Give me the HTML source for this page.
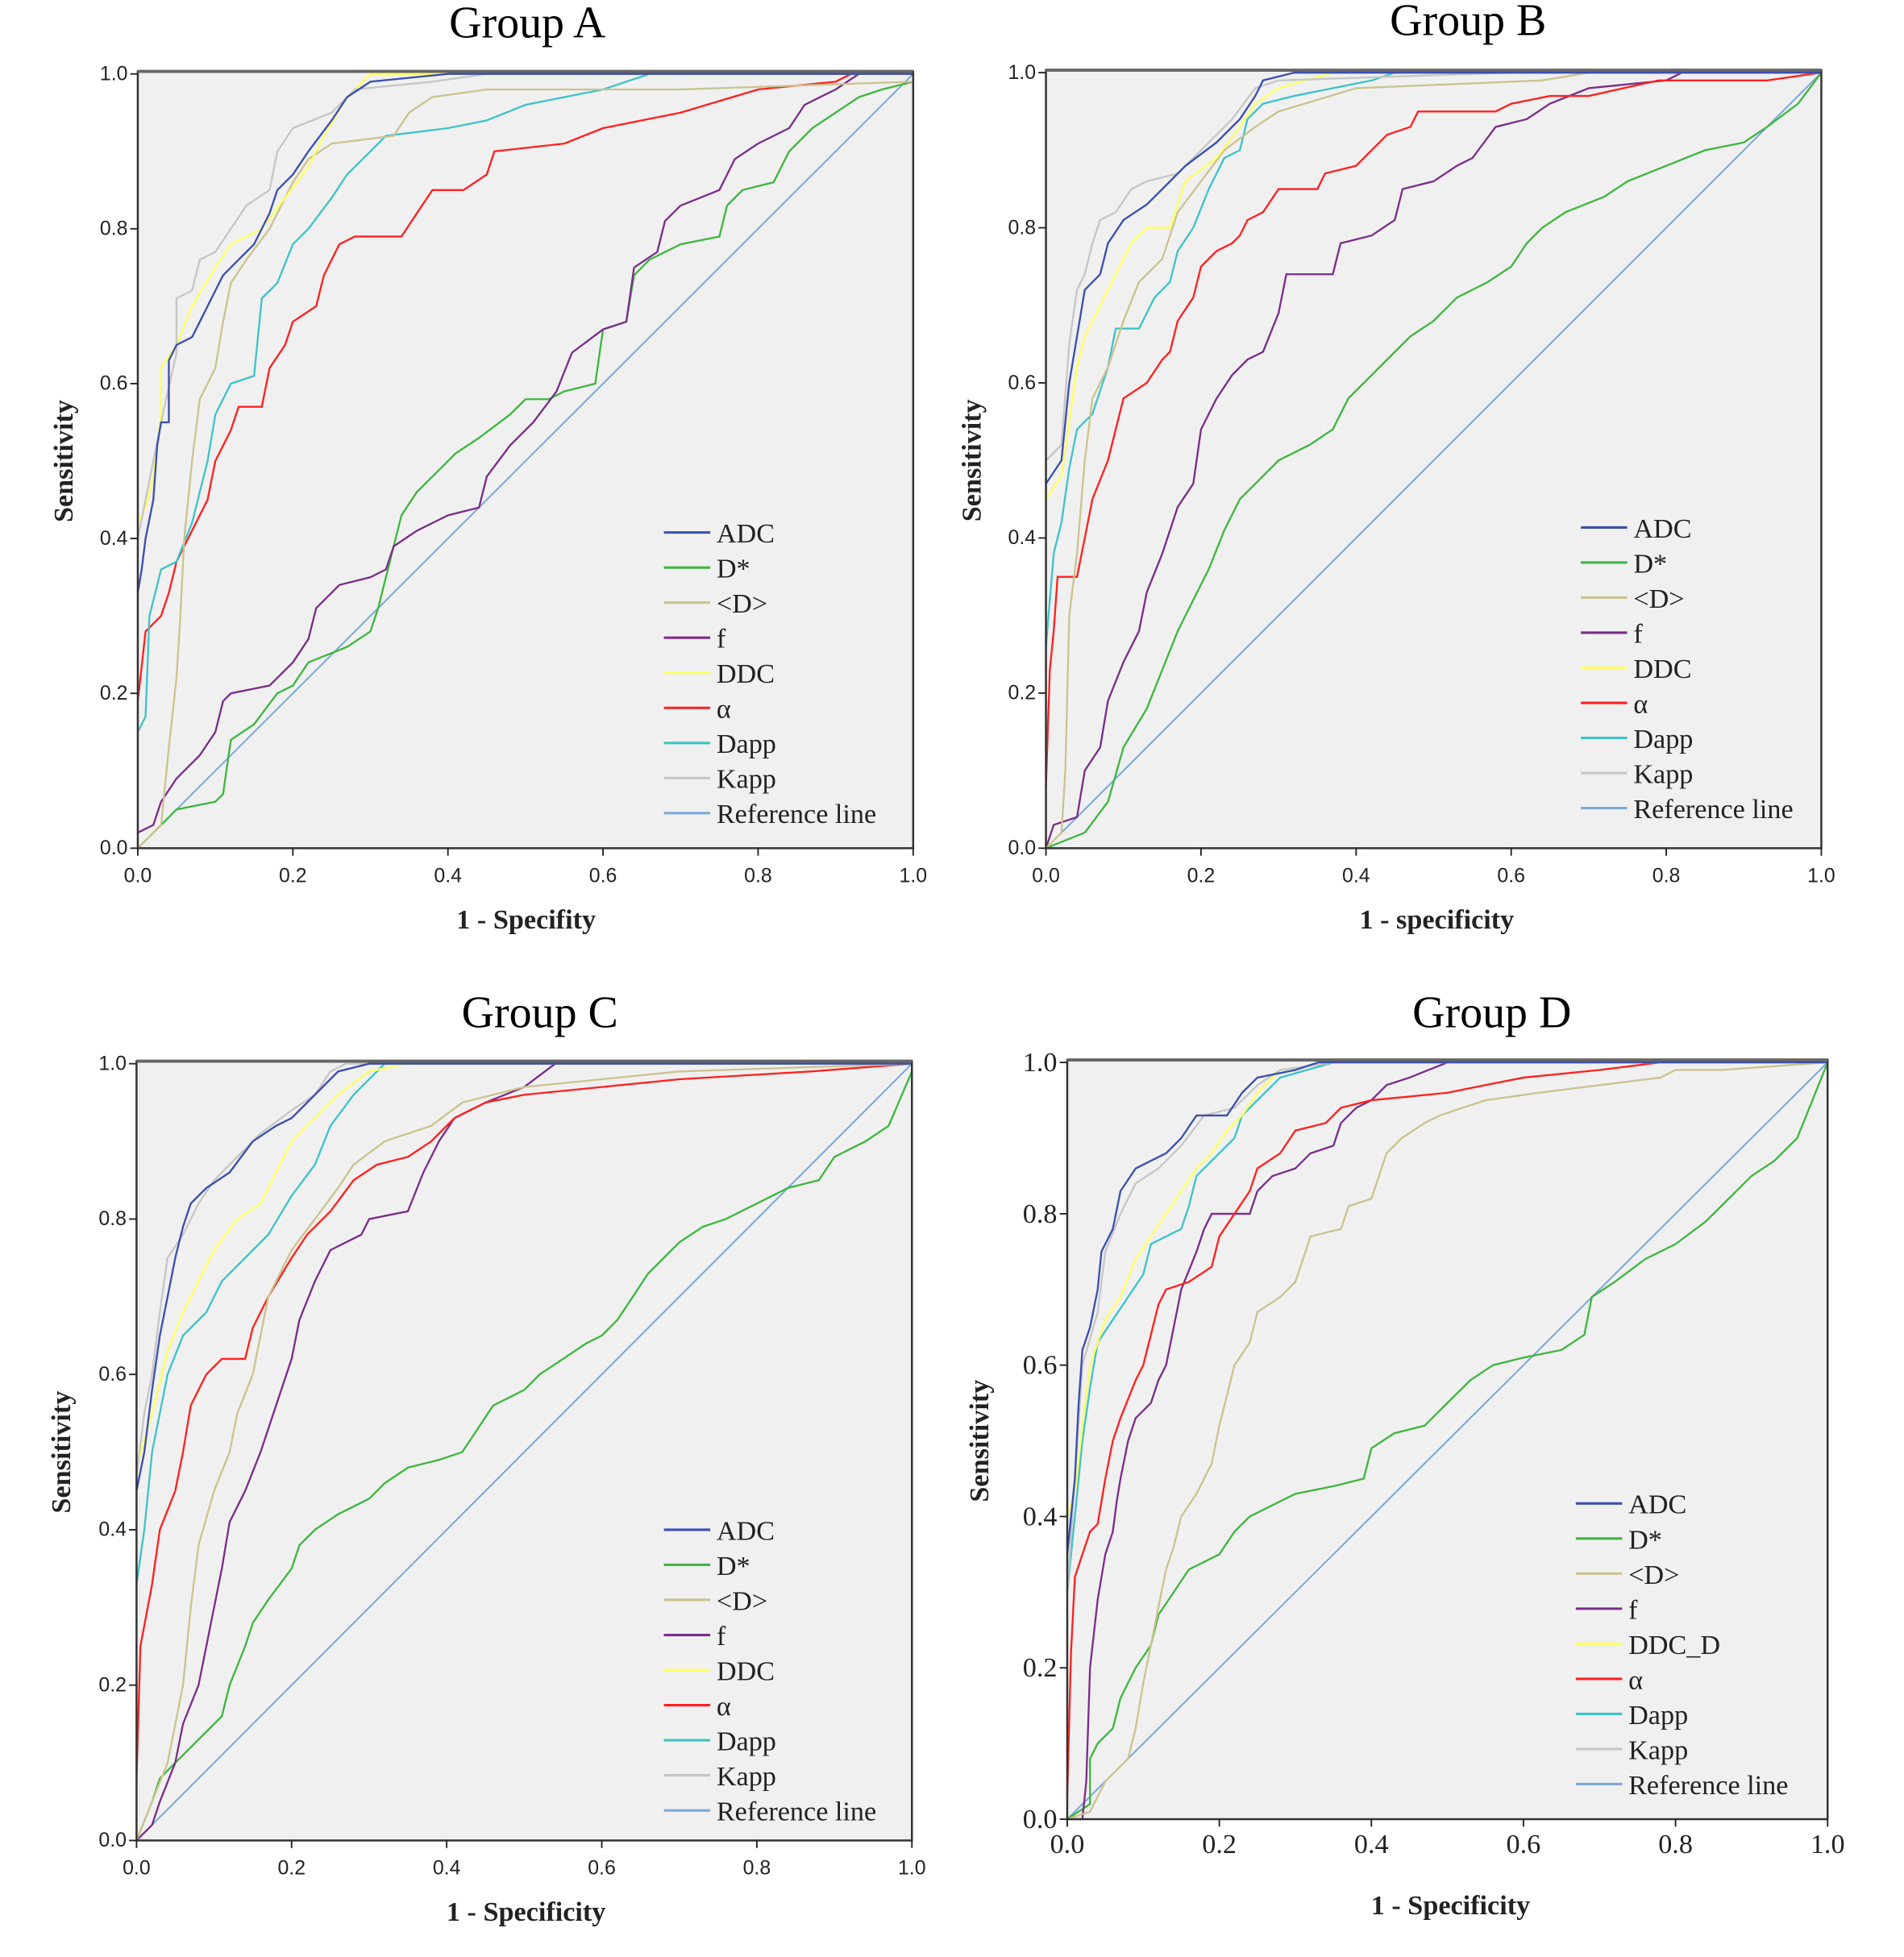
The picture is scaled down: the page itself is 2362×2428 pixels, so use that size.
<!DOCTYPE html>
<html><head><meta charset="utf-8"><style>
html,body{margin:0;padding:0;background:#fff}
svg{display:block}
</style></head><body>
<svg id="fig" width="2362" height="2428" viewBox="0 0 1520 1562" preserveAspectRatio="none" xmlns="http://www.w3.org/2000/svg"></svg>
<script>
const seriesNames = ["ADC","D*","<D>","f","DDC","α","Dapp","Kapp","Reference line"];
const seriesNamesD = ["ADC","D*","<D>","f","DDC_D","α","Dapp","Kapp","Reference line"];
const xTicks = [0,0.2,0.4,0.6,0.8,1.0];
const yTicks = [0,0.2,0.4,0.6,0.8,1.0];
const tickLabels = ["0.0","0.2","0.4","0.6","0.8","1.0"];

const A_ADC=[[0,0.33],[0.005,0.36],[0.01,0.4],[0.02,0.45],[0.025,0.52],[0.03,0.55],[0.04,0.55],[0.04,0.63],[0.05,0.65],[0.07,0.66],[0.08,0.68],[0.1,0.72],[0.11,0.74],[0.13,0.76],[0.15,0.78],[0.17,0.82],[0.18,0.85],[0.2,0.87],[0.22,0.9],[0.25,0.94],[0.27,0.97],[0.3,0.99],[0.4,1],[1,1]];
const A_DS=[[0,0],[0.03,0.03],[0.05,0.05],[0.1,0.06],[0.11,0.07],[0.12,0.14],[0.15,0.16],[0.18,0.2],[0.2,0.21],[0.22,0.24],[0.27,0.26],[0.3,0.28],[0.31,0.31],[0.33,0.39],[0.34,0.43],[0.36,0.46],[0.39,0.49],[0.41,0.51],[0.44,0.53],[0.48,0.56],[0.5,0.58],[0.53,0.58],[0.55,0.59],[0.59,0.6],[0.6,0.67],[0.63,0.68],[0.64,0.74],[0.66,0.76],[0.7,0.78],[0.75,0.79],[0.76,0.83],[0.78,0.85],[0.82,0.86],[0.84,0.9],[0.87,0.93],[0.9,0.95],[0.93,0.97],[0.96,0.98],[1,0.99]];
const A_MD=[[0,0],[0.03,0.03],[0.04,0.13],[0.05,0.22],[0.055,0.3],[0.06,0.4],[0.07,0.5],[0.08,0.58],[0.1,0.62],[0.11,0.68],[0.12,0.73],[0.14,0.76],[0.17,0.8],[0.2,0.86],[0.22,0.89],[0.25,0.91],[0.33,0.92],[0.35,0.95],[0.38,0.97],[0.45,0.98],[0.7,0.98],[1,0.99]];
const A_F=[[0,0.02],[0.02,0.03],[0.03,0.06],[0.05,0.09],[0.08,0.12],[0.1,0.15],[0.11,0.19],[0.12,0.2],[0.17,0.21],[0.2,0.24],[0.22,0.27],[0.23,0.31],[0.26,0.34],[0.3,0.35],[0.32,0.36],[0.33,0.39],[0.36,0.41],[0.4,0.43],[0.44,0.44],[0.45,0.48],[0.48,0.52],[0.51,0.55],[0.54,0.59],[0.56,0.64],[0.6,0.67],[0.63,0.68],[0.64,0.75],[0.67,0.77],[0.68,0.81],[0.7,0.83],[0.75,0.85],[0.77,0.89],[0.8,0.91],[0.84,0.93],[0.86,0.96],[0.9,0.98],[0.93,1],[1,1]];
const A_DDC=[[0,0.42],[0.01,0.44],[0.02,0.48],[0.03,0.56],[0.03,0.62],[0.05,0.65],[0.07,0.7],[0.1,0.75],[0.12,0.78],[0.16,0.8],[0.19,0.84],[0.22,0.88],[0.24,0.92],[0.27,0.97],[0.3,1],[1,1]];
const A_AL=[[0,0.19],[0.01,0.28],[0.03,0.3],[0.04,0.33],[0.05,0.37],[0.07,0.41],[0.09,0.45],[0.1,0.5],[0.12,0.54],[0.13,0.57],[0.16,0.57],[0.17,0.62],[0.19,0.65],[0.2,0.68],[0.23,0.7],[0.24,0.74],[0.26,0.78],[0.28,0.79],[0.34,0.79],[0.36,0.82],[0.38,0.85],[0.42,0.85],[0.45,0.87],[0.46,0.9],[0.55,0.91],[0.6,0.93],[0.7,0.95],[0.8,0.98],[0.9,0.99],[0.92,1],[1,1]];
const A_DAPP=[[0,0.15],[0.01,0.17],[0.015,0.3],[0.03,0.36],[0.05,0.37],[0.07,0.42],[0.09,0.5],[0.1,0.56],[0.12,0.6],[0.15,0.61],[0.16,0.71],[0.18,0.73],[0.2,0.78],[0.22,0.8],[0.25,0.84],[0.27,0.87],[0.3,0.9],[0.32,0.92],[0.4,0.93],[0.45,0.94],[0.5,0.96],[0.55,0.97],[0.6,0.98],[0.66,1],[1,1]];
const A_KAPP=[[0,0.4],[0.03,0.55],[0.05,0.64],[0.05,0.71],[0.07,0.72],[0.08,0.76],[0.1,0.77],[0.12,0.8],[0.14,0.83],[0.17,0.85],[0.18,0.9],[0.2,0.93],[0.25,0.95],[0.28,0.98],[0.38,0.99],[0.45,1],[1,1]];

const B_ADC=[[0,0.47],[0.02,0.5],[0.03,0.6],[0.04,0.66],[0.05,0.72],[0.07,0.74],[0.08,0.78],[0.1,0.81],[0.13,0.83],[0.15,0.85],[0.18,0.88],[0.22,0.91],[0.25,0.94],[0.27,0.97],[0.28,0.99],[0.32,1],[1,1]];
const B_DS=[[0,0],[0.05,0.02],[0.08,0.06],[0.1,0.13],[0.13,0.18],[0.15,0.23],[0.17,0.28],[0.19,0.32],[0.21,0.36],[0.23,0.41],[0.25,0.45],[0.28,0.48],[0.3,0.5],[0.34,0.52],[0.37,0.54],[0.39,0.58],[0.42,0.61],[0.44,0.63],[0.47,0.66],[0.5,0.68],[0.53,0.71],[0.57,0.73],[0.6,0.75],[0.62,0.78],[0.64,0.8],[0.67,0.82],[0.72,0.84],[0.75,0.86],[0.8,0.88],[0.85,0.9],[0.9,0.91],[0.93,0.93],[0.97,0.96],[1,1]];
const B_MD=[[0,0],[0.02,0.02],[0.025,0.1],[0.03,0.3],[0.04,0.38],[0.05,0.5],[0.06,0.58],[0.08,0.62],[0.1,0.68],[0.12,0.73],[0.15,0.76],[0.17,0.82],[0.2,0.86],[0.23,0.9],[0.27,0.93],[0.3,0.95],[0.4,0.98],[0.64,0.99],[0.7,1],[1,1]];
const B_F=[[0,0],[0.01,0.03],[0.04,0.04],[0.05,0.1],[0.07,0.13],[0.08,0.19],[0.1,0.24],[0.12,0.28],[0.13,0.33],[0.15,0.38],[0.17,0.44],[0.19,0.47],[0.2,0.54],[0.22,0.58],[0.24,0.61],[0.26,0.63],[0.28,0.64],[0.3,0.69],[0.31,0.74],[0.37,0.74],[0.38,0.78],[0.42,0.79],[0.45,0.81],[0.46,0.85],[0.5,0.86],[0.53,0.88],[0.55,0.89],[0.58,0.93],[0.62,0.94],[0.65,0.96],[0.7,0.98],[0.8,0.99],[0.82,1],[1,1]];
const B_DDC=[[0,0.45],[0.02,0.48],[0.03,0.55],[0.04,0.62],[0.05,0.66],[0.07,0.7],[0.09,0.74],[0.11,0.78],[0.13,0.8],[0.16,0.8],[0.18,0.86],[0.22,0.89],[0.25,0.93],[0.27,0.96],[0.3,0.98],[0.37,1],[1,1]];
const B_AL=[[0,0.08],[0.005,0.23],[0.01,0.28],[0.015,0.35],[0.04,0.35],[0.05,0.4],[0.06,0.45],[0.08,0.5],[0.09,0.54],[0.1,0.58],[0.13,0.6],[0.15,0.63],[0.16,0.64],[0.17,0.68],[0.19,0.71],[0.2,0.75],[0.22,0.77],[0.24,0.78],[0.25,0.79],[0.26,0.81],[0.28,0.82],[0.3,0.85],[0.35,0.85],[0.36,0.87],[0.4,0.88],[0.42,0.9],[0.44,0.92],[0.47,0.93],[0.48,0.95],[0.58,0.95],[0.6,0.96],[0.65,0.97],[0.7,0.97],[0.79,0.99],[0.93,0.99],[1,1]];
const B_DAPP=[[0,0.26],[0.01,0.38],[0.02,0.42],[0.03,0.49],[0.04,0.54],[0.06,0.56],[0.08,0.62],[0.09,0.67],[0.12,0.67],[0.14,0.71],[0.16,0.73],[0.17,0.77],[0.19,0.8],[0.21,0.85],[0.23,0.89],[0.25,0.9],[0.26,0.94],[0.28,0.96],[0.32,0.97],[0.37,0.98],[0.42,0.99],[0.45,1],[1,1]];
const B_KAPP=[[0,0.5],[0.02,0.52],[0.03,0.65],[0.04,0.72],[0.05,0.74],[0.06,0.78],[0.07,0.81],[0.09,0.82],[0.11,0.85],[0.13,0.86],[0.17,0.87],[0.2,0.9],[0.24,0.94],[0.27,0.98],[0.3,0.99],[0.6,1],[1,1]];

const C_ADC=[[0,0.45],[0.01,0.5],[0.02,0.58],[0.03,0.65],[0.04,0.7],[0.05,0.75],[0.06,0.79],[0.07,0.82],[0.09,0.84],[0.12,0.86],[0.15,0.9],[0.18,0.92],[0.2,0.93],[0.23,0.96],[0.26,0.99],[0.3,1],[1,1]];
const C_DS=[[0,0],[0.02,0.05],[0.03,0.08],[0.05,0.1],[0.07,0.12],[0.09,0.14],[0.11,0.16],[0.12,0.2],[0.14,0.25],[0.15,0.28],[0.17,0.31],[0.2,0.35],[0.21,0.38],[0.23,0.4],[0.26,0.42],[0.3,0.44],[0.32,0.46],[0.35,0.48],[0.39,0.49],[0.42,0.5],[0.44,0.53],[0.46,0.56],[0.5,0.58],[0.52,0.6],[0.55,0.62],[0.58,0.64],[0.6,0.65],[0.62,0.67],[0.64,0.7],[0.66,0.73],[0.68,0.75],[0.7,0.77],[0.73,0.79],[0.76,0.8],[0.8,0.82],[0.84,0.84],[0.88,0.85],[0.9,0.88],[0.94,0.9],[0.97,0.92],[1,0.99]];
const C_MD=[[0,0],[0.02,0.05],[0.04,0.1],[0.06,0.2],[0.07,0.3],[0.08,0.38],[0.1,0.45],[0.12,0.5],[0.13,0.55],[0.15,0.6],[0.17,0.7],[0.2,0.76],[0.23,0.8],[0.26,0.84],[0.28,0.87],[0.32,0.9],[0.38,0.92],[0.42,0.95],[0.5,0.97],[0.6,0.98],[0.7,0.99],[1,1]];
const C_F=[[0,0],[0.02,0.02],[0.03,0.05],[0.05,0.1],[0.06,0.15],[0.08,0.2],[0.1,0.3],[0.11,0.35],[0.12,0.41],[0.14,0.45],[0.16,0.5],[0.18,0.56],[0.2,0.62],[0.21,0.67],[0.23,0.72],[0.25,0.76],[0.29,0.78],[0.3,0.8],[0.35,0.81],[0.37,0.86],[0.39,0.9],[0.41,0.93],[0.45,0.95],[0.5,0.97],[0.54,1],[1,1]];
const C_DDC=[[0,0.48],[0.02,0.55],[0.04,0.63],[0.06,0.68],[0.08,0.72],[0.1,0.76],[0.13,0.8],[0.16,0.82],[0.18,0.86],[0.2,0.9],[0.23,0.93],[0.26,0.96],[0.3,0.99],[0.35,1],[1,1]];
const C_AL=[[0,0.08],[0.005,0.25],[0.02,0.33],[0.03,0.4],[0.05,0.45],[0.06,0.5],[0.07,0.56],[0.09,0.6],[0.11,0.62],[0.14,0.62],[0.15,0.66],[0.17,0.7],[0.2,0.75],[0.22,0.78],[0.25,0.81],[0.28,0.85],[0.31,0.87],[0.35,0.88],[0.38,0.9],[0.41,0.93],[0.45,0.95],[0.5,0.96],[0.6,0.97],[0.7,0.98],[0.87,0.99],[1,1]];
const C_DAPP=[[0,0.33],[0.01,0.4],[0.02,0.5],[0.04,0.6],[0.06,0.65],[0.09,0.68],[0.11,0.72],[0.14,0.75],[0.17,0.78],[0.2,0.83],[0.23,0.87],[0.25,0.92],[0.28,0.96],[0.32,1],[1,1]];
const C_KAPP=[[0,0.47],[0.01,0.55],[0.02,0.6],[0.03,0.68],[0.04,0.75],[0.06,0.78],[0.08,0.82],[0.1,0.85],[0.13,0.88],[0.16,0.91],[0.2,0.94],[0.23,0.96],[0.25,0.99],[0.27,1],[1,1]];

const D_ADC=[[0,0.35],[0.01,0.45],[0.015,0.55],[0.02,0.62],[0.03,0.65],[0.04,0.7],[0.045,0.75],[0.06,0.78],[0.07,0.83],[0.09,0.86],[0.11,0.87],[0.13,0.88],[0.15,0.9],[0.17,0.93],[0.21,0.93],[0.23,0.96],[0.25,0.98],[0.3,0.99],[0.33,1],[1,1]];
const D_DS=[[0,0],[0.03,0.02],[0.03,0.08],[0.04,0.1],[0.06,0.12],[0.07,0.16],[0.09,0.2],[0.11,0.23],[0.12,0.27],[0.14,0.3],[0.16,0.33],[0.2,0.35],[0.22,0.38],[0.24,0.4],[0.28,0.42],[0.3,0.43],[0.35,0.44],[0.39,0.45],[0.4,0.49],[0.43,0.51],[0.47,0.52],[0.5,0.55],[0.53,0.58],[0.56,0.6],[0.6,0.61],[0.65,0.62],[0.68,0.64],[0.69,0.69],[0.72,0.71],[0.76,0.74],[0.8,0.76],[0.84,0.79],[0.87,0.82],[0.9,0.85],[0.93,0.87],[0.96,0.9],[0.98,0.95],[1,1]];
const D_MD=[[0,0],[0.03,0.01],[0.05,0.05],[0.08,0.08],[0.09,0.12],[0.1,0.18],[0.11,0.23],[0.12,0.28],[0.13,0.33],[0.14,0.36],[0.15,0.4],[0.17,0.43],[0.19,0.47],[0.2,0.52],[0.21,0.56],[0.22,0.6],[0.24,0.63],[0.25,0.67],[0.28,0.69],[0.3,0.71],[0.31,0.74],[0.32,0.77],[0.36,0.78],[0.37,0.81],[0.4,0.82],[0.41,0.85],[0.42,0.88],[0.44,0.9],[0.47,0.92],[0.49,0.93],[0.52,0.94],[0.55,0.95],[0.62,0.96],[0.7,0.97],[0.78,0.98],[0.8,0.99],[0.86,0.99],[1,1]];
const D_F=[[0,0],[0.02,0],[0.025,0.05],[0.03,0.2],[0.04,0.29],[0.05,0.35],[0.06,0.38],[0.065,0.42],[0.07,0.45],[0.08,0.5],[0.09,0.53],[0.11,0.55],[0.12,0.58],[0.13,0.6],[0.14,0.65],[0.15,0.7],[0.17,0.75],[0.18,0.78],[0.19,0.8],[0.24,0.8],[0.25,0.83],[0.27,0.85],[0.3,0.86],[0.32,0.88],[0.35,0.89],[0.36,0.92],[0.38,0.94],[0.4,0.95],[0.42,0.97],[0.45,0.98],[0.5,1],[1,1]];
const D_DDC=[[0,0.4],[0.01,0.43],[0.02,0.52],[0.03,0.6],[0.05,0.66],[0.07,0.69],[0.09,0.74],[0.11,0.77],[0.13,0.8],[0.15,0.83],[0.17,0.86],[0.19,0.88],[0.21,0.91],[0.23,0.93],[0.25,0.96],[0.28,0.99],[0.35,1],[1,1]];
const D_AL=[[0,0.03],[0.005,0.22],[0.01,0.32],[0.02,0.35],[0.03,0.38],[0.04,0.39],[0.05,0.45],[0.06,0.5],[0.07,0.53],[0.09,0.58],[0.1,0.6],[0.11,0.64],[0.12,0.68],[0.13,0.7],[0.16,0.71],[0.19,0.73],[0.2,0.77],[0.22,0.8],[0.24,0.83],[0.25,0.86],[0.28,0.88],[0.3,0.91],[0.34,0.92],[0.36,0.94],[0.4,0.95],[0.5,0.96],[0.55,0.97],[0.6,0.98],[0.7,0.99],[0.78,1],[1,1]];
const D_DAPP=[[0,0.3],[0.01,0.4],[0.02,0.5],[0.03,0.57],[0.04,0.63],[0.06,0.66],[0.08,0.69],[0.1,0.72],[0.11,0.76],[0.13,0.77],[0.15,0.78],[0.16,0.81],[0.17,0.85],[0.19,0.87],[0.22,0.9],[0.23,0.93],[0.26,0.96],[0.28,0.98],[0.35,1],[1,1]];
const D_KAPP=[[0,0.3],[0.01,0.45],[0.02,0.6],[0.04,0.67],[0.05,0.75],[0.07,0.8],[0.09,0.84],[0.12,0.86],[0.15,0.89],[0.18,0.93],[0.22,0.94],[0.25,0.97],[0.28,0.99],[0.35,1],[1,1]];

const colors={"ADC":"#3a4fae","D*":"#3fb63f","<D>":"#cbc38f","f":"#7a2e8a","DDC":"#ffff60","DDC_D":"#ffff60","α":"#ff2020","Dapp":"#3ec3c8","Kapp":"#c6c6c6","Reference line":"#79a9d8"};

const panels=[
 {id:"a",title:"Group  A",xl:"1 - Specifity",L:110,R:729,T:59,B:677,data:[A_ADC,A_DS,A_MD,A_F,A_DDC,A_AL,A_DAPP,A_KAPP],names:seriesNames,tx:421,ty:30,xlx:420,xly:741,ylx:58,legX:530,legY:425,tickFont:"Liberation Sans"},
 {id:"b",title:"Group  B",xl:"1 - specificity",L:835,R:1454,T:58,B:677,data:[B_ADC,B_DS,B_MD,B_F,B_DDC,B_AL,B_DAPP,B_KAPP],names:seriesNames,tx:1172,ty:28,xlx:1147,xly:741,ylx:783,legX:1262,legY:421,tickFont:"Liberation Sans"},
 {id:"c",title:"Group  C",xl:"1 - Specificity",L:109,R:728,T:849,B:1469,data:[C_ADC,C_DS,C_MD,C_F,C_DDC,C_AL,C_DAPP,C_KAPP],names:seriesNames,tx:431,ty:820,xlx:420,xly:1533,ylx:56,legX:530,legY:1221,tickFont:"Liberation Sans"},
 {id:"d",title:"Group  D",xl:"1 - Specificity",L:852,R:1459,T:848,B:1452,data:[D_ADC,D_DS,D_MD,D_F,D_DDC,D_AL,D_DAPP,D_KAPP],names:seriesNamesD,tx:1191,ty:820,xlx:1158,xly:1528,ylx:789,legX:1258,legY:1200,tickFont:"Liberation Serif"}
];

const NS="http://www.w3.org/2000/svg";
const svg=document.getElementById('fig');
function mk(tag,attrs,parent){const e=document.createElementNS(NS,tag);for(const k in attrs)e.setAttribute(k,attrs[k]);(parent||svg).appendChild(e);return e;}

panels.forEach(p=>{
  const g=mk('g',{});
  
  
  const sx=v=>p.L+v*(p.R-p.L);
  const sy=v=>p.B-v*(p.B-p.T);
  const bg=mk('rect',{x:p.L,y:p.T-2,width:p.R-p.L,height:p.B-p.T+2,fill:"#f0f0f0",stroke:"none"},g);
  
  
  // reference line
  const ref=mk('line',{x1:sx(0),y1:sy(0),x2:sx(1),y2:sy(1),stroke:colors["Reference line"],"stroke-width":1.3},g);
  
  
  const order=[1,3,5,6,2,4,7,0];
  order.forEach(i=>{
    const nm=p.names[i];
    const pts=p.data[i].map(d=>sx(d[0]).toFixed(1)+','+sy(d[1]).toFixed(1)).join(' ');
    const pl=mk('polyline',{points:pts,fill:"none",stroke:colors[nm],"stroke-width":1.5},g);
    
    
  });
  // frame
  const fr=mk('rect',{x:p.L,y:p.T-2,width:p.R-p.L,height:p.B-p.T+2,fill:"none",stroke:"#333","stroke-width":1.6},g);
  
  
  mk('line',{x1:p.L,y1:p.T-2,x2:p.R,y2:p.T-2,stroke:"#666","stroke-width":2.5},g);
  // ticks
  xTicks.forEach((t,i)=>{
    mk('line',{x1:sx(t),y1:p.B,x2:sx(t),y2:p.B+6,stroke:"#222","stroke-width":1.2},g);
    const tx=mk('text',{x:sx(t),y:p.B+27,"text-anchor":"middle","font-family":p.tickFont+", sans-serif","font-size":p.id==="d"?22:16,fill:"#222"},g);
    tx.textContent=tickLabels[i];
    
    
  });
  yTicks.forEach((t,i)=>{
    mk('line',{x1:p.L-6,y1:sy(t),x2:p.L,y2:sy(t),stroke:"#222","stroke-width":1.2},g);
    const ty=mk('text',{x:p.L-8,y:sy(t)+(p.id==="d"?7:5),"text-anchor":"end","font-family":p.tickFont+", sans-serif","font-size":p.id==="d"?22:16,fill:"#222"},g);
    ty.textContent=tickLabels[i];
    
    
  });
  const ti=mk('text',{x:p.tx,y:p.ty,"text-anchor":"middle","font-family":"Liberation Serif, serif","font-size":36,fill:"#000"},g);
  ti.textContent=p.title;
  
  
  const xl=mk('text',{x:p.xlx,y:p.xly,"text-anchor":"middle","font-family":"Liberation Serif, serif","font-size":22,"font-weight":"bold",fill:"#222"},g);
  xl.textContent=p.xl;
  
  
  const cy=(p.T+p.B)/2;
  const yl=mk('text',{x:p.ylx,y:cy,"text-anchor":"middle","font-family":"Liberation Serif, serif","font-size":22,"font-weight":"bold",fill:"#222",transform:"rotate(-90 "+p.ylx+" "+cy+")"},g);
  yl.textContent="Sensitivity";
  
  
  // legend
  p.names.forEach((nm,i)=>{
    const y=p.legY+i*28;
    const lg=mk('g',{},g);
    
    
    mk('line',{x1:p.legX,y1:y,x2:p.legX+37,y2:y,stroke:colors[nm],"stroke-width":2},lg);
    const lt=mk('text',{x:p.legX+42,y:y+8,"font-family":"Liberation Serif, serif","font-size":22,fill:"#222"},lg);
    lt.textContent=nm;
  });
});
</script>
</body></html>
